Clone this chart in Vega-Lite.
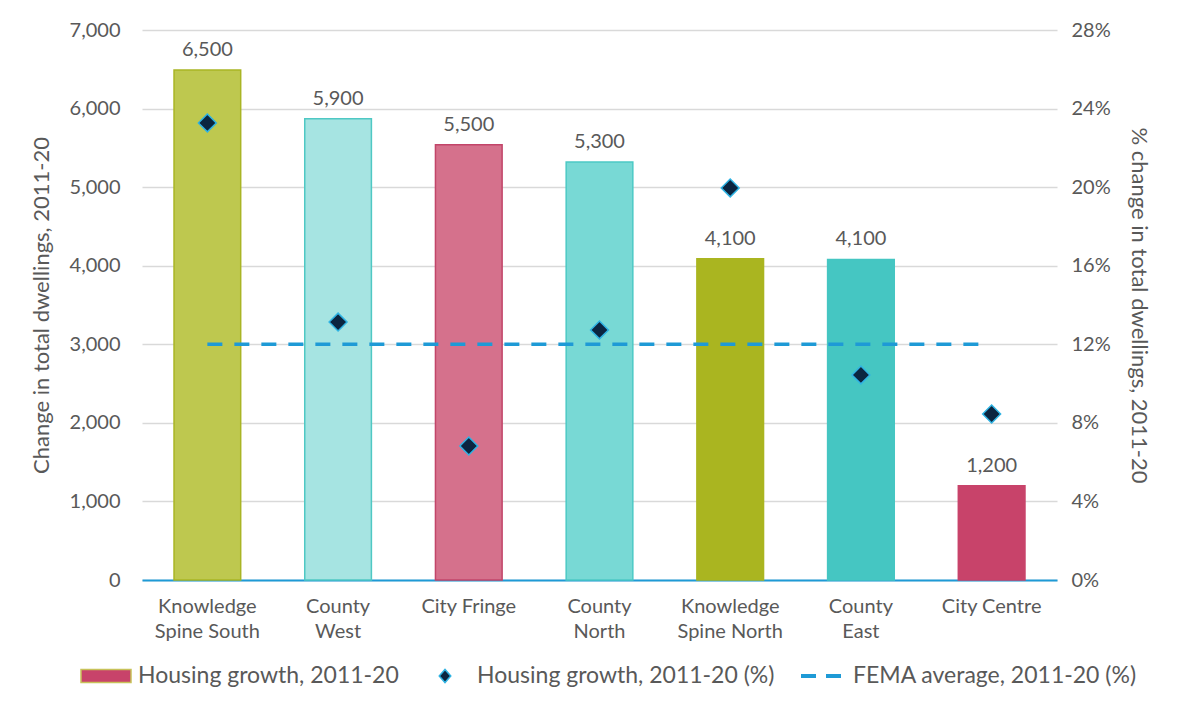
{
  "$schema": "https://vega.github.io/schema/vega-lite/v6.json",
  "autosize": "none",
  "width": 915,
  "height": 550,
  "padding": {"left": 142, "top": 30, "right": 121, "bottom": 122},
  "background": "white",
  "config": {
    "font": "Lato",
    "view": {"stroke": null},
    "axis": {"labelColor": "#595959", "titleColor": "#595959", "labelFontSize": 20, "titleFontSize": 22, "titleFontWeight": "normal", "labelFont": "Lato", "titleFont": "Lato"},
    "legend": {"labelColor": "#595959", "labelFontSize": 23, "labelFont": "Lato", "labelLimit": 500}
  },
  "datasets": {
    "regions": [
      {"region": "Knowledge Spine South", "dwellings": 6490, "pct": 0.2327},
      {"region": "County West", "dwellings": 5870, "pct": 0.1313},
      {"region": "City Fringe", "dwellings": 5540, "pct": 0.0682},
      {"region": "County North", "dwellings": 5320, "pct": 0.1273},
      {"region": "Knowledge Spine North", "dwellings": 4090, "pct": 0.1996},
      {"region": "County East", "dwellings": 4080, "pct": 0.1044},
      {"region": "City Centre", "dwellings": 1200, "pct": 0.0845}
    ],
    "fema": [
      {"region": "Knowledge Spine South", "end": "City Centre", "avg": 0.12}
    ],
    "legend": [
      {"series": "Housing growth, 2011-20"},
      {"series": "Housing growth, 2011-20 (%)"},
      {"series": "FEMA average, 2011-20 (%)"}
    ]
  },
  "encoding": {
    "x": {
      "field": "region",
      "type": "nominal",
      "sort": null,
      "scale": {"domain": ["Knowledge Spine South", "County West", "City Fringe", "County North", "Knowledge Spine North", "County East", "City Centre"], "paddingInner": 0.49, "paddingOuter": 0.245},
      "axis": {
        "title": null,
        "labelAngle": 0,
        "domainColor": "#1e9ad6",
        "domainWidth": 2,
        "ticks": false,
        "labelPadding": 16,
        "labelLineHeight": 25,
        "labelExpr": "datum.value == 'Knowledge Spine South' ? ['Knowledge', 'Spine South'] : datum.value == 'County West' ? ['County', 'West'] : datum.value == 'County North' ? ['County', 'North'] : datum.value == 'Knowledge Spine North' ? ['Knowledge', 'Spine North'] : datum.value == 'County East' ? ['County', 'East'] : datum.label"
      }
    }
  },
  "layer": [
    {
      "data": {"name": "regions"},
      "layer": [
        {
          "mark": {"type": "bar", "strokeWidth": 1.5},
          "encoding": {
            "y": {
              "field": "dwellings",
              "type": "quantitative",
              "scale": {"domain": [0, 7000]},
              "axis": {"title": "Change in total dwellings, 2011-20", "values": [0, 1000, 2000, 3000, 4000, 5000, 6000, 7000], "format": ",d", "domain": false, "ticks": false, "gridColor": "#d9d9d9", "gridWidth": 1.5, "labelPadding": 22, "titlePadding": 16}
            },
            "fill": {
              "field": "region",
              "type": "nominal",
              "scale": {"domain": ["Knowledge Spine South", "County West", "City Fringe", "County North", "Knowledge Spine North", "County East", "City Centre"], "range": ["#bec84f", "#a6e4e2", "#d5718c", "#78d9d5", "#aab520", "#45c6c2", "#c8436a"]},
              "legend": null
            },
            "stroke": {
              "field": "region",
              "type": "nominal",
              "scale": {"domain": ["Knowledge Spine South", "County West", "City Fringe", "County North", "Knowledge Spine North", "County East", "City Centre"], "range": ["#a9b524", "#4fc8c4", "#c24569", "#4cc9c5", "#aab520", "#45c6c2", "#c8436a"]},
              "legend": null
            }
          }
        },
        {
          "mark": {"type": "text", "baseline": "bottom", "dy": -10, "fontSize": 20, "color": "#595959", "font": "Lato"},
          "encoding": {
            "y": {"field": "dwellings", "type": "quantitative", "scale": {"domain": [0, 7000]}},
            "text": {"field": "dwellings", "type": "quantitative", "format": ",.2r"}
          }
        }
      ]
    },
    {
      "layer": [
        {
          "data": {"name": "regions"},
          "mark": {"type": "point", "shape": "diamond", "filled": true, "size": 320, "color": "#0b2540", "stroke": "#2fb3e3", "strokeWidth": 1.5, "opacity": 1},
          "encoding": {
            "y": {
              "field": "pct",
              "type": "quantitative",
              "scale": {"domain": [0, 0.28]},
              "axis": {"orient": "right", "title": "% change in total  dwellings, 2011-20", "values": [0, 0.04, 0.08, 0.12, 0.16, 0.2, 0.24, 0.28], "format": ".0%", "grid": false, "domain": false, "ticks": false, "labelPadding": 14, "titlePadding": 16}
            }
          }
        },
        {
          "data": {"name": "fema"},
          "mark": {"type": "rule", "color": "#1e9ad6", "strokeWidth": 3.5, "strokeDash": [15, 12], "x2Offset": -10},
          "encoding": {
            "x2": {"field": "end"},
            "y": {"field": "avg", "type": "quantitative", "scale": {"domain": [0, 0.28]}}
          }
        }
      ]
    },
    {
      "data": {"name": "legend"},
      "mark": {"type": "point", "filled": true, "opacity": 0},
      "encoding": {
        "x": {"value": 0},
        "y": {"value": 0},
        "color": {
          "field": "series",
          "type": "nominal",
          "scale": {"domain": ["Housing growth, 2011-20", "Housing growth, 2011-20 (%)", "FEMA average, 2011-20 (%)"], "range": ["#c8436a", "#0b2540", "#1e9ad6"]},
          "legend": {
            "orient": "none", "legendX": -62, "legendY": 620, "direction": "horizontal", "columns": 3, "title": null,
            "symbolOpacity": 1, "columnPadding": 20, "labelOffset": 6,
            "encode": {"symbols": {"update": {
              "opacity": {"value": 1},
              "fillOpacity": {"value": 1},
              "stroke": {"signal": "datum.value == 'Housing growth, 2011-20' ? '#c8c25a' : datum.value == 'Housing growth, 2011-20 (%)' ? '#2fb3e3' : 'transparent'"},
              "strokeWidth": {"value": 1.5}
            }}}
          }
        },
        "shape": {
          "field": "series",
          "type": "nominal",
          "scale": {"domain": ["Housing growth, 2011-20", "Housing growth, 2011-20 (%)", "FEMA average, 2011-20 (%)"], "range": ["M-1,-0.26H1V0.26H-1Z", "M-0.23,0L0,-0.26L0.23,0L0,0.26Z", "M-0.8,-0.08H-0.2V0.08H-0.8Z M0.2,-0.08H0.8V0.08H0.2Z"]}
        },
        "size": {
          "field": "series",
          "type": "nominal",
          "scale": {"domain": ["Housing growth, 2011-20", "Housing growth, 2011-20 (%)", "FEMA average, 2011-20 (%)"], "range": [2500, 2500, 2500]},
          "legend": null
        }
      }
    }
  ],
  "resolve": {"scale": {"y": "independent", "fill": "independent", "stroke": "independent"}}
}
